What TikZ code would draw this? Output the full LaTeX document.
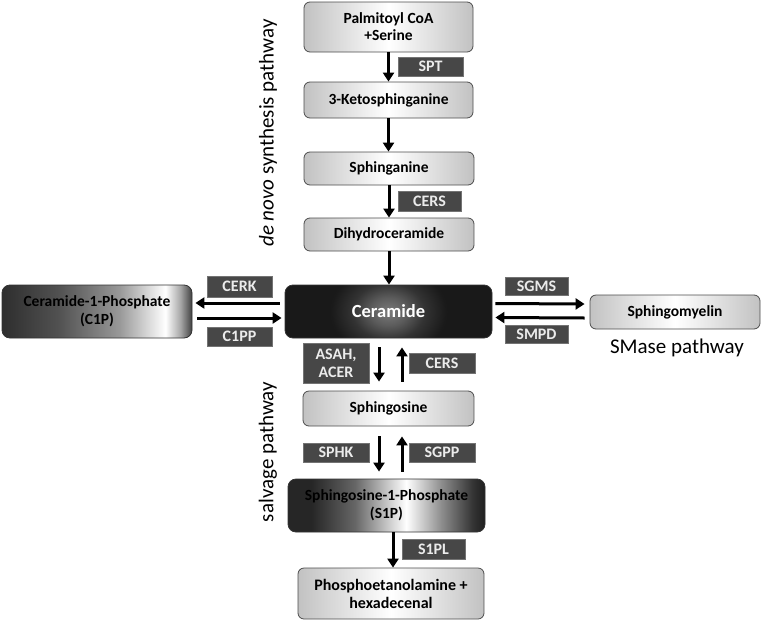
\documentclass[tikz,border=0pt]{standalone}
\usepackage{fontspec}
\setmainfont{Carlito}
\usetikzlibrary{arrows.meta}
\pgfdeclarehorizontalshading{lightshade}{100bp}{color(0bp)=(black!24); color(25bp)=(black!24); color(50bp)=(white); color(75bp)=(black!24); color(100bp)=(black!24)}
\pgfdeclarehorizontalshading{cpshade}{100bp}{color(0bp)=(black!82); color(25bp)=(black!82); color(40bp)=(black!68); color(56bp)=(black!40); color(68bp)=(white); color(72bp)=(black!35); color(75bp)=(black!75); color(100bp)=(black!75)}
\pgfdeclarehorizontalshading{spshade}{100bp}{color(0bp)=(black!85); color(25bp)=(black!85); color(31bp)=(black!85); color(42bp)=(black!60); color(55bp)=(white); color(64bp)=(black!45); color(72bp)=(black!80); color(75bp)=(black!88); color(100bp)=(black!88)}
\pgfdeclareradialshading{glowshade}{\pgfpoint{0bp}{0bp}}{color(0bp)=(black!52); color(2.5bp)=(black!64); color(5bp)=(black!80); color(8bp)=(black!90); color(25bp)=(black!90); color(50bp)=(black!90)}
\begin{document}
\begin{tikzpicture}[x=1pt,y=-1pt,
  lbox/.style={draw=black!70, line width=0.8pt, rounded corners=6pt, shading=lightshade, inner sep=0pt, align=center, font=\bfseries\fontsize{15.5}{17}\selectfont},
  dbox/.style={draw=black!80, line width=0.8pt, rounded corners=8pt, inner sep=0pt, align=center, font=\bfseries\fontsize{15.5}{18}\selectfont},
  ebox/.style={fill=black!72, draw=black!55, line width=0.6pt, text=black!8, inner sep=0pt, align=center, font=\bfseries\fontsize{16}{17}\selectfont},
  arr/.style={line width=3pt, -{Triangle[length=9pt,width=11pt]}},
  plabel/.style={font=\fontsize{21}{24}\selectfont, inner sep=0pt}]
\useasboundingbox (0,0) rectangle (762,621);
% main column
\node[lbox, minimum width=169pt, minimum height=50pt] (palm) at (388.5,27) {Palmitoyl CoA\\+Serine};
\node[lbox, minimum width=169pt, minimum height=36pt] (keto) at (388.5,100) {3-Ketosphinganine};
\node[lbox, minimum width=170pt, minimum height=33pt] (sphn) at (389,168.5) {Sphinganine};
\node[lbox, minimum width=170pt, minimum height=33pt] (dihy) at (389,234.5) {Dihydroceramide};
\node[dbox, minimum width=207pt, minimum height=53pt, text=white,
  font=\bfseries\fontsize{18.5}{20}\selectfont,
  path picture={\shade[shading=glowshade] (path picture bounding box.center) ellipse [x radius=180pt, y radius=140pt];}] (cer) at (388.5,311.5) {Ceramide};
\node[dbox, shading=cpshade, minimum width=190pt, minimum height=53pt] (c1p) at (97,311.5) {Ceramide-1-Phosphate\\(C1P)};
\node[lbox, minimum width=170pt, minimum height=34pt] (sm) at (675,312) {Sphingomyelin};
\node[lbox, minimum width=171pt, minimum height=35pt] (sph) at (388.5,408.5) {Sphingosine};
\node[dbox, shading=spshade, minimum width=197pt, minimum height=53pt] (s1p) at (386.5,505.5) {Sphingosine-1-Phosphate\\(S1P)};
\node[lbox, minimum width=186pt, minimum height=51pt, font=\bfseries\fontsize{16}{18}\selectfont] (pe) at (391,593.5) {Phosphoetanolamine +\\hexadecenal};
% enzymes
\node[ebox, minimum width=65pt, minimum height=19pt] (spt) at (430.5,66.5) {SPT};
\node[ebox, minimum width=63pt, minimum height=20pt] (cers1) at (429.5,201) {CERS};
\node[ebox, minimum width=65pt, minimum height=21pt] (cerk) at (239.5,286.5) {CERK};
\node[ebox, minimum width=65pt, minimum height=19pt] (c1pp) at (239.5,336.5) {C1PP};
\node[ebox, minimum width=63pt, minimum height=18pt] (sgms) at (536.5,286) {SGMS};
\node[ebox, minimum width=63pt, minimum height=18pt] (smpd) at (536.5,334) {SMPD};
\node[ebox, minimum width=66pt, minimum height=40pt, font=\bfseries\fontsize{16}{18}\selectfont] (asah) at (336,363) {ASAH,\\ACER};
\node[ebox, minimum width=66pt, minimum height=20pt] (cers2) at (442,363) {CERS};
\node[ebox, minimum width=66pt, minimum height=19pt] (sphk) at (336,452.5) {SPHK};
\node[ebox, minimum width=66pt, minimum height=19pt] (sgpp) at (442,452.5) {SGPP};
\node[ebox, minimum width=63pt, minimum height=20pt] (s1pl) at (433.5,549) {S1PL};
% pathway labels
\node[plabel, rotate=90] (denovo) at (268,133) {\textit{de novo} synthesis pathway};
\node[plabel, rotate=90] (salv) at (268,452) {salvage pathway};
\node[plabel, anchor=base] (smase) at (677,353) {SMase pathway};
% arrows
\draw[arr] (palm.south) -- (keto.north);
\draw[arr] (keto.south) -- (keto.south |- sphn.north);
\draw[arr] (sphn.south) -- (dihy.north);
\draw[arr] (dihy.south) -- (dihy.south |- cer.north);
\draw[arr] ([xshift=-5pt,yshift=8.5pt]cer.west) -- ([xshift=3pt,yshift=8.5pt]c1p.east);
\draw[arr] ([xshift=5pt,yshift=-6.5pt]c1p.east) -- ([xshift=-3pt,yshift=-6.5pt]cer.west);
\draw[arr] ([xshift=3pt,yshift=8pt]cer.east) -- ([xshift=-5pt,yshift=8pt]sm.west);
\draw[arr] ([xshift=-5pt,yshift=-6pt]sm.west) -- ([xshift=3pt,yshift=-6pt]cer.east);
\draw[arr] ([xshift=-9.5pt,yshift=-9pt]cer.south) -- ([xshift=-9.5pt,yshift=9pt]sph.north);
\draw[arr] ([xshift=13.5pt,yshift=9pt]sph.north) -- ([xshift=13.5pt,yshift=-9pt]cer.south);
\draw[arr] ([xshift=-9.5pt,yshift=-10pt]sph.south) -- ([xshift=-7.5pt,yshift=7pt]s1p.north);
\draw[arr] ([xshift=15.5pt,yshift=7pt]s1p.north) -- ([xshift=13.5pt,yshift=-10pt]sph.south);
\draw[arr] ([xshift=6.5pt]s1p.south) -- ([xshift=6.5pt]s1p.south |- pe.north);
\end{tikzpicture}
\end{document}
